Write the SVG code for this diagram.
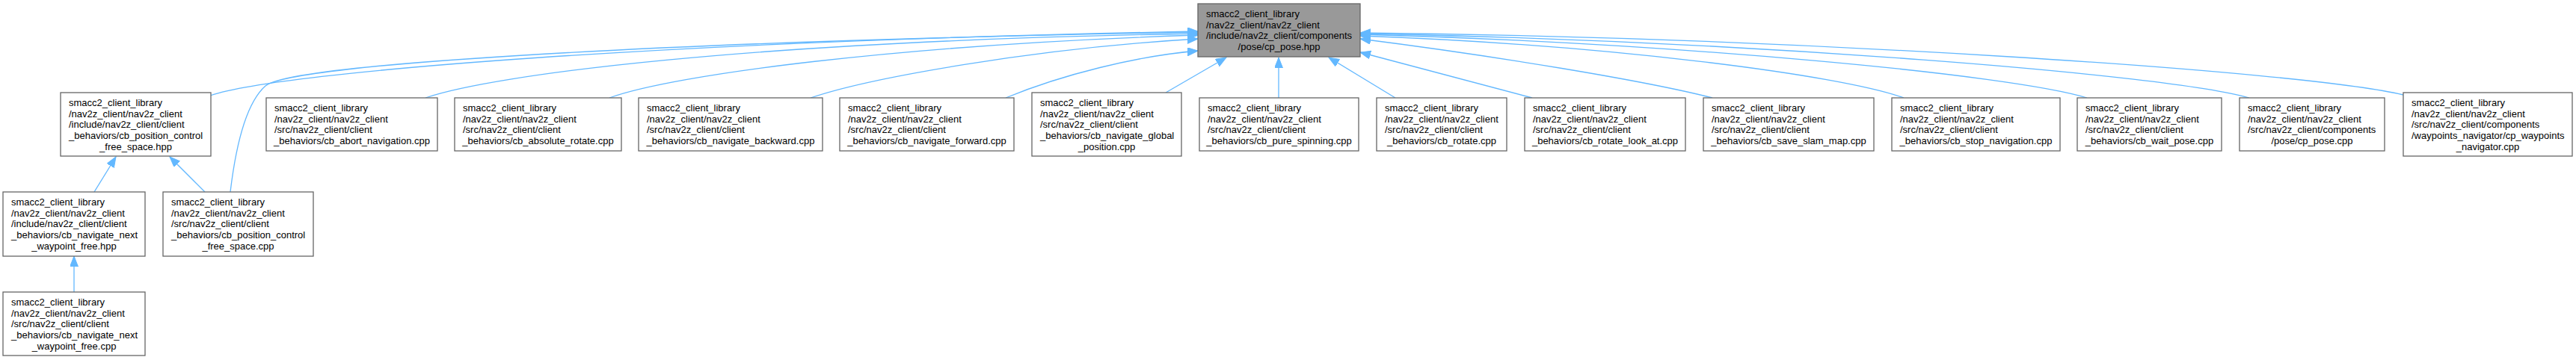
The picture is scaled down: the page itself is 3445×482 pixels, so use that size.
<svg xmlns="http://www.w3.org/2000/svg" width="3445" height="482" viewBox="0 0 3445 482">
<style>
rect.n{fill:#ffffff;stroke:#666666;stroke-width:1.3}
rect.r{fill:#999999;stroke:#666666;stroke-width:1.3}
text{font-family:"Liberation Sans",Arial,Helvetica,sans-serif;font-size:13px;fill:#000000}
text.c{text-anchor:middle}
#edges path{fill:none;stroke:#63b8ff;stroke-width:1.3;marker-end:url(#ah)}
</style>
<defs>
<marker id="ah" markerUnits="userSpaceOnUse" markerWidth="16" markerHeight="12" refX="14" refY="5.5" orient="auto">
<path d="M0,0 L14,5.5 L0,11 z" fill="#63b8ff" stroke="#63b8ff" stroke-width="1"/>
</marker>
</defs>
<rect width="3445" height="482" fill="#ffffff"/>

<g id="edges">
<path d="M281,128 C380,95 900,55 1602,42"/>
<path d="M308,257 C316,190 330,137 355,115 C390,85 900,55 1602,43"/>
<path d="M569,131 C660,100 1000,55 1602,45"/>
<path d="M815,131 C900,100 1200,60 1602,47"/>
<path d="M1084,131 C1160,105 1380,65 1602,52"/>
<path d="M1345,131 C1420,100 1520,75 1602,68"/>
<path d="M1559,124 L1640,77"/>
<path d="M1710,131 L1710,77"/>
<path d="M1866,131 L1777,77"/>
<path d="M2049,131 L1819,70"/>
<path d="M2290,131 C2200,108 2000,75 1819,52"/>
<path d="M2546,131 C2460,100 2150,60 1819,48"/>
<path d="M2791,131 C2690,100 2250,58 1819,46"/>
<path d="M3008,131 C2900,100 2350,55 1819,45"/>
<path d="M3214,127 C3080,95 2400,50 1819,44"/>
<path d="M126,257 L155,210"/>
<path d="M274,257 L227,210"/>
<path d="M99,391 L99,343"/>
</g>

<g id="root">
<rect class="r" x="1602" y="5" width="217" height="71"/>
<text x="1613" y="23">smacc2_client_library</text>
<text x="1613" y="37.7">/nav2z_client/nav2z_client</text>
<text x="1613" y="52.3">/include/nav2z_client/components</text>
<text class="c" x="1710.5" y="67">/pose/cp_pose.hpp</text>
</g>

<g id="n_pos_ctrl_hpp">
<rect class="n" x="81" y="124" width="201" height="85"/>
<text x="92" y="142">smacc2_client_library</text>
<text x="92" y="156.7">/nav2z_client/nav2z_client</text>
<text x="92" y="171.3">/include/nav2z_client/client</text>
<text x="92" y="186">_behaviors/cb_position_control</text>
<text class="c" x="181.5" y="200.7">_free_space.hpp</text>
</g>

<g id="n_nav_next_hpp">
<rect class="n" x="4" y="257" width="190" height="86"/>
<text x="15" y="275">smacc2_client_library</text>
<text x="15" y="289.7">/nav2z_client/nav2z_client</text>
<text x="15" y="304.3">/include/nav2z_client/client</text>
<text x="15" y="319">_behaviors/cb_navigate_next</text>
<text class="c" x="99" y="333.7">_waypoint_free.hpp</text>
</g>

<g id="n_pos_ctrl_cpp">
<rect class="n" x="218" y="257" width="201" height="86"/>
<text x="229" y="275">smacc2_client_library</text>
<text x="229" y="289.7">/nav2z_client/nav2z_client</text>
<text x="229" y="304.3">/src/nav2z_client/client</text>
<text x="229" y="319">_behaviors/cb_position_control</text>
<text class="c" x="318.5" y="333.7">_free_space.cpp</text>
</g>

<g id="n_nav_next_cpp">
<rect class="n" x="4" y="391" width="190" height="85"/>
<text x="15" y="409">smacc2_client_library</text>
<text x="15" y="423.7">/nav2z_client/nav2z_client</text>
<text x="15" y="438.3">/src/nav2z_client/client</text>
<text x="15" y="453">_behaviors/cb_navigate_next</text>
<text class="c" x="99" y="467.7">_waypoint_free.cpp</text>
</g>

<g id="n_abort">
<rect class="n" x="356" y="131" width="229" height="71"/>
<text x="367" y="149">smacc2_client_library</text>
<text x="367" y="163.7">/nav2z_client/nav2z_client</text>
<text x="367" y="178.3">/src/nav2z_client/client</text>
<text class="c" x="470.5" y="193">_behaviors/cb_abort_navigation.cpp</text>
</g>

<g id="n_absolute">
<rect class="n" x="608" y="131" width="223" height="71"/>
<text x="619" y="149">smacc2_client_library</text>
<text x="619" y="163.7">/nav2z_client/nav2z_client</text>
<text x="619" y="178.3">/src/nav2z_client/client</text>
<text class="c" x="719.5" y="193">_behaviors/cb_absolute_rotate.cpp</text>
</g>

<g id="n_backward">
<rect class="n" x="854" y="131" width="246" height="71"/>
<text x="865" y="149">smacc2_client_library</text>
<text x="865" y="163.7">/nav2z_client/nav2z_client</text>
<text x="865" y="178.3">/src/nav2z_client/client</text>
<text class="c" x="977" y="193">_behaviors/cb_navigate_backward.cpp</text>
</g>

<g id="n_forward">
<rect class="n" x="1123" y="131" width="233" height="71"/>
<text x="1134" y="149">smacc2_client_library</text>
<text x="1134" y="163.7">/nav2z_client/nav2z_client</text>
<text x="1134" y="178.3">/src/nav2z_client/client</text>
<text class="c" x="1239.5" y="193">_behaviors/cb_navigate_forward.cpp</text>
</g>

<g id="n_global">
<rect class="n" x="1380" y="124" width="200" height="85"/>
<text x="1391" y="142">smacc2_client_library</text>
<text x="1391" y="156.7">/nav2z_client/nav2z_client</text>
<text x="1391" y="171.3">/src/nav2z_client/client</text>
<text x="1391" y="186">_behaviors/cb_navigate_global</text>
<text class="c" x="1480" y="200.7">_position.cpp</text>
</g>

<g id="n_pure">
<rect class="n" x="1604" y="131" width="213" height="71"/>
<text x="1615" y="149">smacc2_client_library</text>
<text x="1615" y="163.7">/nav2z_client/nav2z_client</text>
<text x="1615" y="178.3">/src/nav2z_client/client</text>
<text class="c" x="1710.5" y="193">_behaviors/cb_pure_spinning.cpp</text>
</g>

<g id="n_rotate">
<rect class="n" x="1841" y="131" width="174" height="71"/>
<text x="1852" y="149">smacc2_client_library</text>
<text x="1852" y="163.7">/nav2z_client/nav2z_client</text>
<text x="1852" y="178.3">/src/nav2z_client/client</text>
<text class="c" x="1928" y="193">_behaviors/cb_rotate.cpp</text>
</g>

<g id="n_look_at">
<rect class="n" x="2039" y="131" width="215" height="71"/>
<text x="2050" y="149">smacc2_client_library</text>
<text x="2050" y="163.7">/nav2z_client/nav2z_client</text>
<text x="2050" y="178.3">/src/nav2z_client/client</text>
<text class="c" x="2146.5" y="193">_behaviors/cb_rotate_look_at.cpp</text>
</g>

<g id="n_save_slam">
<rect class="n" x="2278" y="131" width="228" height="71"/>
<text x="2289" y="149">smacc2_client_library</text>
<text x="2289" y="163.7">/nav2z_client/nav2z_client</text>
<text x="2289" y="178.3">/src/nav2z_client/client</text>
<text class="c" x="2392" y="193">_behaviors/cb_save_slam_map.cpp</text>
</g>

<g id="n_stop">
<rect class="n" x="2530" y="131" width="225" height="71"/>
<text x="2541" y="149">smacc2_client_library</text>
<text x="2541" y="163.7">/nav2z_client/nav2z_client</text>
<text x="2541" y="178.3">/src/nav2z_client/client</text>
<text class="c" x="2642.5" y="193">_behaviors/cb_stop_navigation.cpp</text>
</g>

<g id="n_wait">
<rect class="n" x="2778" y="131" width="193" height="71"/>
<text x="2789" y="149">smacc2_client_library</text>
<text x="2789" y="163.7">/nav2z_client/nav2z_client</text>
<text x="2789" y="178.3">/src/nav2z_client/client</text>
<text class="c" x="2874.5" y="193">_behaviors/cb_wait_pose.cpp</text>
</g>

<g id="n_cp_pose_cpp">
<rect class="n" x="2995" y="131" width="194" height="71"/>
<text x="3006" y="149">smacc2_client_library</text>
<text x="3006" y="163.7">/nav2z_client/nav2z_client</text>
<text x="3006" y="178.3">/src/nav2z_client/components</text>
<text class="c" x="3092" y="193">/pose/cp_pose.cpp</text>
</g>

<g id="n_waypoints">
<rect class="n" x="3214" y="124" width="226" height="85"/>
<text x="3225" y="142">smacc2_client_library</text>
<text x="3225" y="156.7">/nav2z_client/nav2z_client</text>
<text x="3225" y="171.3">/src/nav2z_client/components</text>
<text x="3225" y="186">/waypoints_navigator/cp_waypoints</text>
<text class="c" x="3327" y="200.7">_navigator.cpp</text>
</g>
</svg>
